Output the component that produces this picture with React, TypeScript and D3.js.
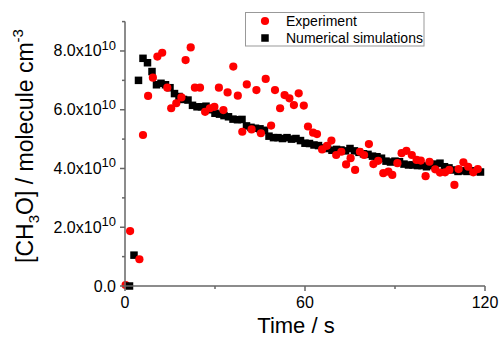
import * as d3 from 'd3'

// values are in units of 1e10 molecule cm^-3
const simTime = [
  1.5, 3, 4.5, 6, 7.5, 9, 10.5, 12, 13.5, 15, 16.5, 18, 19.5, 21, 22.5, 24, 25.5, 27, 28.5, 30,
  31.5, 33, 34.5, 36, 37.5, 39, 40.5, 42, 43.5, 45, 46.5, 48, 49.5, 51, 52.5, 54, 55.5, 57, 58.5, 60,
  61.5, 63, 64.5, 66, 67.5, 69, 70.5, 72, 73.5, 75, 76.5, 78, 79.5, 81, 82.5, 84, 85.5, 87, 88.5, 90,
  91.5, 93, 94.5, 96, 97.5, 99, 100.5, 102, 103.5, 105, 106.5, 108, 109.5, 111, 112.5, 114, 115.5, 117, 118.5,
]
const simValue = [
  0, 1.05, 7.0, 7.75, 7.6, 7.3, 6.85, 6.9, 6.85, 6.75, 6.55, 6.45, 6.35, 6.33, 6.15, 6.1, 6.1, 6.12, 6.0, 5.88,
  5.85, 5.8, 5.76, 5.68, 5.66, 5.67, 5.45, 5.4, 5.37, 5.35, 5.3, 5.1, 5.05, 5.05, 5.02, 5.05, 5.0, 5.02, 4.95, 4.86,
  4.85, 4.8, 4.78, 4.7, 4.68, 4.62, 4.65, 4.63, 4.6, 4.68, 4.6, 4.55, 4.5, 4.48, 4.42, 4.4, 4.35, 4.25, 4.22, 4.25,
  4.23, 4.15, 4.12, 4.12, 4.1, 4.1, 4.06, 4.1, 4.15, 4.18, 4.06, 4.02, 3.95, 3.9, 3.92, 3.9, 3.92, 3.9, 3.88,
]

const expTime = [
  0.2, 1.7, 4.8, 6.0, 7.7, 9.3, 10.8, 12.4, 14.1, 15.4, 17.1, 18.8, 20.2, 21.9, 23.3, 25.0, 26.7, 28.3, 29.8, 31.3,
  32.8, 34.2, 36.1, 37.6, 39.1, 40.6, 42.2, 43.8, 45.3, 46.9, 48.7, 50.0, 51.7, 53.2, 54.8, 56.3, 57.9, 59.6, 61.0, 62.7,
  64.0, 65.7, 67.3, 68.8, 70.4, 72.1, 73.7, 75.2, 76.7, 78.3, 79.7, 81.3, 82.8, 84.4, 86.1, 87.8, 89.1, 90.8, 92.2, 93.8,
  95.6, 97.2, 98.6, 100.2, 101.5, 103.4, 105.0, 106.7, 108.1, 109.8, 111.2, 112.8, 114.4, 116.1, 117.6,
]
const expValue = [
  0.03, 1.87, 0.91, 5.14, 6.47, 7.09, 7.81, 7.94, 6.75, 6.05, 6.22, 6.42, 7.69, 8.12, 6.75, 6.75, 5.93, 6.05, 6.1, 6.75,
  5.99, 6.59, 7.47, 6.48, 5.25, 6.86, 5.33, 6.67, 5.2, 7.05, 5.46, 6.67, 6.05, 6.5, 6.39, 6.16, 6.56, 6.14, 5.43, 5.22,
  5.17, 4.65, 4.77, 4.95, 4.46, 4.57, 4.14, 4.35, 3.95, 4.57, 4.46, 4.83, 4.15, 4.26, 3.84, 3.89, 3.78, 4.18, 4.52, 4.6,
  4.46, 4.29, 4.27, 3.74, 4.23, 3.97, 3.86, 3.87, 3.95, 3.44, 3.98, 4.21, 4.06, 3.87, 3.98,
]

const xMajor = [0, 60, 120]
const xMinor = [30, 90]
const yMajor = [0, 2, 4, 6, 8]
const yMinor = [1, 3, 5, 7, 9]
const legendLabels = ['Experiment', 'Numerical simulations']

const W = 500
const H = 338
const AXIS = '#666'
const FONT = 'Arial, "Liberation Sans", sans-serif'

export default function App() {
  const x = d3.scaleLinear().domain([0, 120]).range([125, 485])
  const y = d3.scaleLinear().domain([0, 9]).range([286, 21.6])
  const [x0, x1] = x.range()
  const [y0, y1] = y.range()
  const sq = 7.5
  const r = 4.1

  return (
    <svg width={W} height={H} style={{ position: 'absolute', left: 0, top: 0 }} fontFamily={FONT}>
      <rect width={W} height={H} fill="#fff" />

      {expTime.slice(0, 1).map((t, i) => (
        <circle key={'e0' + i} cx={x(t)} cy={y(expValue[i])} r={r} fill="#ff0000" />
      ))}
      {simTime.map((t, i) => (
        <rect key={'s' + i} x={x(t) - sq / 2} y={y(simValue[i]) - sq / 2} width={sq} height={sq} fill="#000" />
      ))}
      {expTime.slice(1).map((t, i) => (
        <circle key={'e' + i} cx={x(t)} cy={y(expValue[i + 1])} r={r} fill="#ff0000" />
      ))}

      {/* axes */}
      <line x1={x0} x2={x1} y1={y0} y2={y0} stroke={AXIS} strokeWidth={1.5} />
      <line x1={x0} x2={x0} y1={y0} y2={y1} stroke={AXIS} strokeWidth={1.5} />
      {xMajor.map(t => (
        <g key={'xm' + t}>
          <line x1={x(t)} x2={x(t)} y1={y0} y2={y0 + 5} stroke={AXIS} strokeWidth={1.5} />
          <text x={x(t)} y={y0 + 22} textAnchor="middle" fontSize={16} fill="#000">{t}</text>
        </g>
      ))}
      {xMinor.map(t => (
        <line key={'xn' + t} x1={x(t)} x2={x(t)} y1={y0} y2={y0 + 3} stroke={AXIS} strokeWidth={1.5} />
      ))}
      {yMajor.map(v => (
        <g key={'ym' + v}>
          <line x1={x0 - 5} x2={x0} y1={y(v)} y2={y(v)} stroke={AXIS} strokeWidth={1.5} />
          <text x={116} y={y(v) + 5.5} textAnchor="end" fontSize={16} fill="#000">
            {v === 0 ? (
              '0.0'
            ) : (
              <>
                {`${v.toFixed(1)}x10`}
                <tspan fontSize={13} dy={-6.5}>10</tspan>
              </>
            )}
          </text>
        </g>
      ))}
      {yMinor.map(v => (
        <line key={'yn' + v} x1={x0 - 3} x2={x0} y1={y(v)} y2={y(v)} stroke={AXIS} strokeWidth={1.5} />
      ))}

      {/* axis titles */}
      <text x={296} y={333} textAnchor="middle" fontSize={22} fill="#000">Time / s</text>
      <text transform="translate(33,146) rotate(-90)" textAnchor="middle" fontSize={23} fill="#000">
        [CH<tspan fontSize={15} dy={6}>3</tspan>
        <tspan dy={-6}>O] / molecule cm</tspan>
        <tspan fontSize={15} dy={-10}>-3</tspan>
      </text>

      {/* legend */}
      <rect x={245.5} y={12.5} width={178.5} height={33.5} fill="#fff" stroke="#999" strokeWidth={1} />
      <circle cx={265} cy={21} r={r} fill="#ff0000" />
      <rect x={265 - sq / 2} y={38 - sq / 2} width={sq} height={sq} fill="#000" />
      <text x={286} y={26} fontSize={14} fill="#000">{legendLabels[0]}</text>
      <text x={286} y={42.5} fontSize={14} fill="#000">{legendLabels[1]}</text>
    </svg>
  )
}
